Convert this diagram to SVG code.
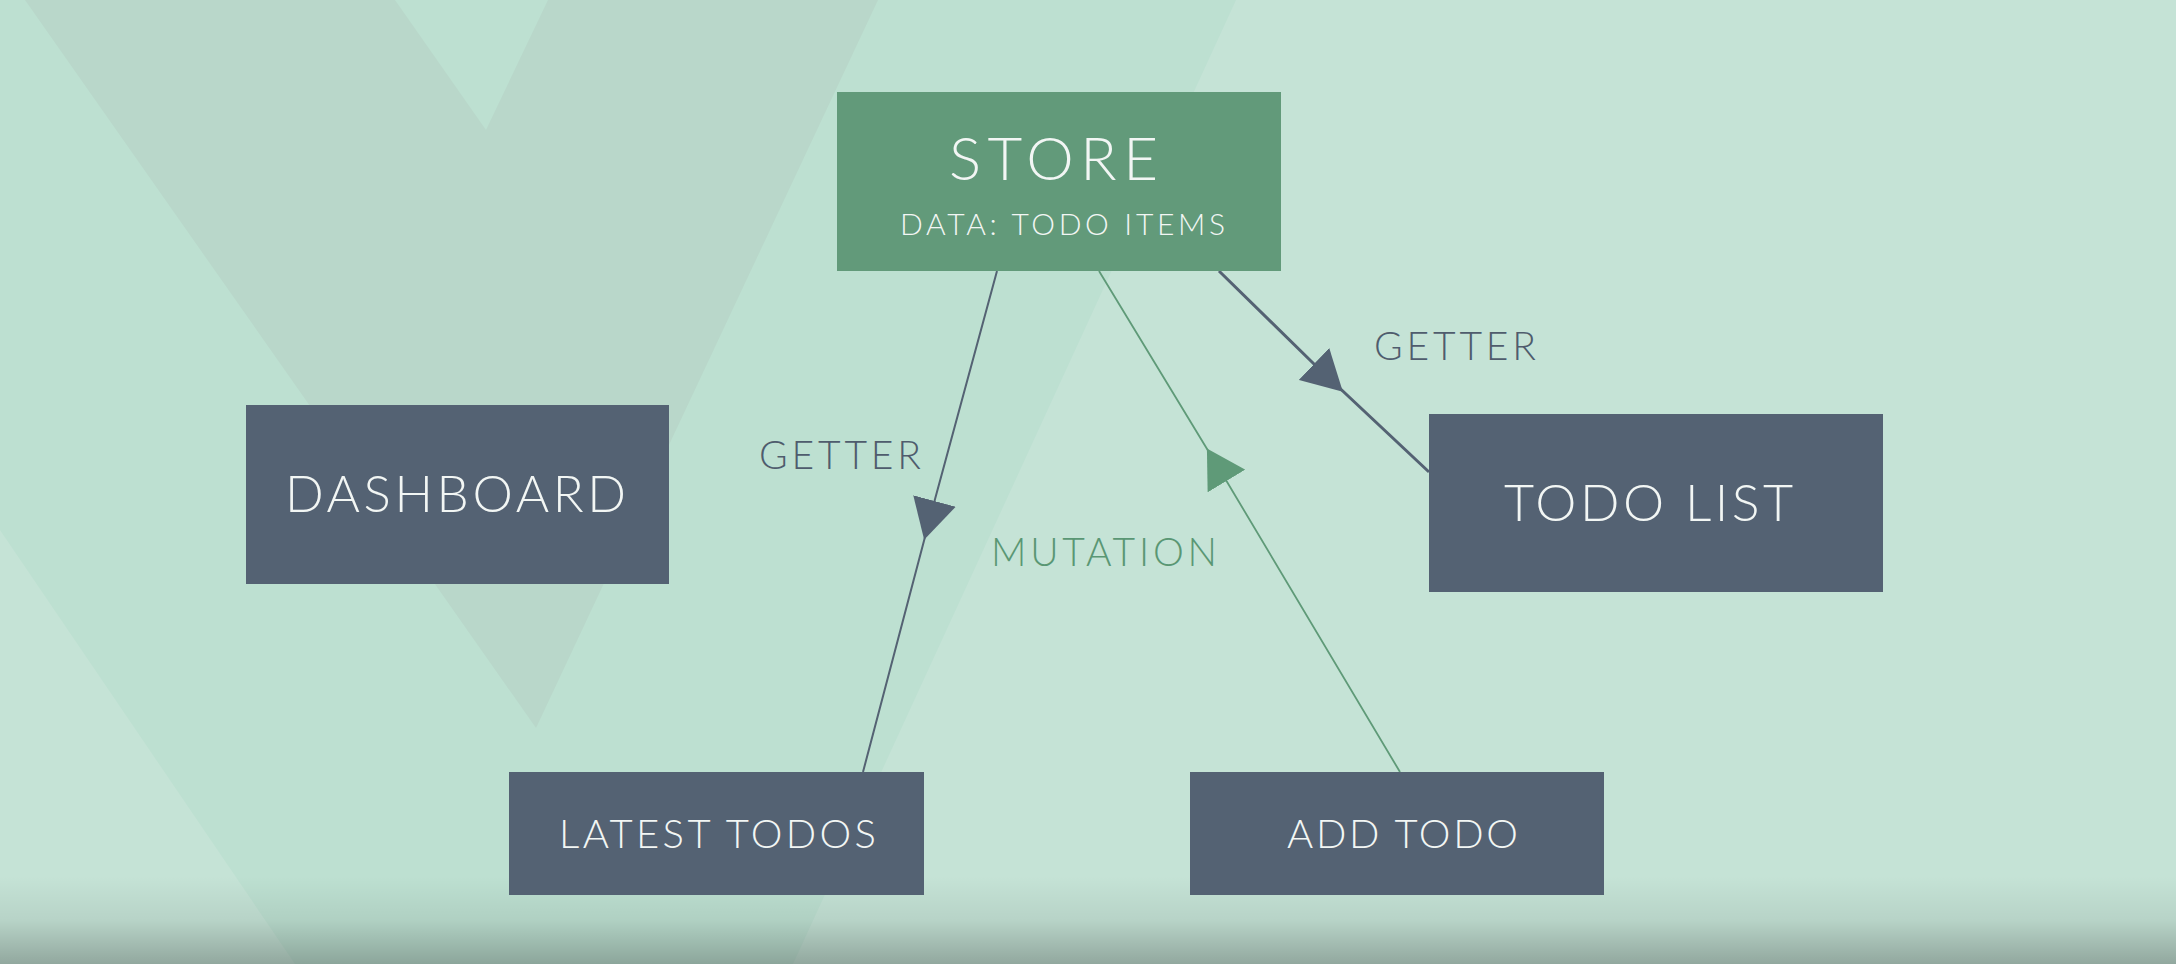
<svg xmlns="http://www.w3.org/2000/svg" width="2176" height="964" viewBox="0 0 2176 964">
<style>
.node{fill:#546273}
.store{fill:#629a7a}
.t{font-family:Lato,"Open Sans","Liberation Sans",sans-serif;font-weight:300;fill:#f2f6f4}
.lbl{font-family:Lato,"Open Sans","Liberation Sans",sans-serif;font-weight:300;font-size:39px}
.dk{fill:#4f5c6d}
.gr{fill:#5a9774}
.edge{fill:none}
</style>
<defs>
<marker id="arrDark" markerUnits="userSpaceOnUse" viewBox="0 0 40 44" markerWidth="40" markerHeight="44" refX="0" refY="22" orient="auto">
<path d="M0,0 L40,22 L0,44 Z" fill="#546273"/>
</marker>
<marker id="arrGreen" markerUnits="userSpaceOnUse" viewBox="0 0 40 44" markerWidth="40" markerHeight="44" refX="0" refY="22" orient="auto">
<path d="M0,0 L38,22 L0,44 Z" fill="#5f9a78"/>
</marker>
<linearGradient id="shade" x1="0" y1="0" x2="0" y2="1">
<stop offset="0" stop-color="#000" stop-opacity="0"/>
<stop offset="0.5" stop-color="#000" stop-opacity="0.07"/>
<stop offset="1" stop-color="#000" stop-opacity="0.26"/>
</linearGradient>
</defs>
<g id="background">
<rect x="0" y="0" width="2176" height="964" fill="#c5e3d6"/>
<polygon points="0,0 1236,0 793,964 295,964 0,530" fill="#bde0d1"/>
<polygon points="25,0 395,0 486,130 548,0 878,0 536,728" fill="#b9d7ca"/>
<rect x="0" y="876" width="2176" height="88" fill="url(#shade)"/>
</g>
<g id="connectors">
<path class="edge" d="M997,271 L934.5,501 L863,772" stroke="#546273" stroke-width="2" marker-mid="url(#arrDark)"/>
<path class="edge" d="M1219,271 L1314,364 L1429,472" stroke="#546273" stroke-width="3" marker-mid="url(#arrDark)"/>
<path class="edge" d="M1400,772 L1226.5,481 L1099,271" stroke="#5f9a78" stroke-width="1.8" marker-mid="url(#arrGreen)"/>
<text class="lbl dk" x="759" y="469" textLength="162" lengthAdjust="spacing">GETTER</text>
<text class="lbl dk" x="1374" y="360" textLength="162" lengthAdjust="spacing">GETTER</text>
<text class="lbl gr" x="991" y="566" textLength="226" lengthAdjust="spacing">MUTATION</text>
</g>
<g id="store">
<rect class="store" x="837" y="92" width="444" height="179"/>
<text class="t" x="949" y="180" font-size="60" textLength="209" lengthAdjust="spacing">STORE</text>
<text class="t" x="900" y="235" font-size="30" textLength="325" lengthAdjust="spacing">DATA: TODO ITEMS</text>
</g>
<g id="dashboard">
<rect class="node" x="246" y="405" width="423" height="179"/>
<text class="t" x="285" y="512" font-size="51" textLength="341" lengthAdjust="spacing">DASHBOARD</text>
</g>
<g id="todo-list">
<rect class="node" x="1429" y="414" width="454" height="178"/>
<text class="t" x="1504" y="521" font-size="52" textLength="289" lengthAdjust="spacing">TODO LIST</text>
</g>
<g id="latest-todos">
<rect class="node" x="509" y="772" width="415" height="123"/>
<text class="t" x="559" y="848" font-size="40" textLength="317" lengthAdjust="spacing">LATEST TODOS</text>
</g>
<g id="add-todo">
<rect class="node" x="1190" y="772" width="414" height="123"/>
<text class="t" x="1287" y="848" font-size="40" textLength="231" lengthAdjust="spacing">ADD TODO</text>
</g>
</svg>
